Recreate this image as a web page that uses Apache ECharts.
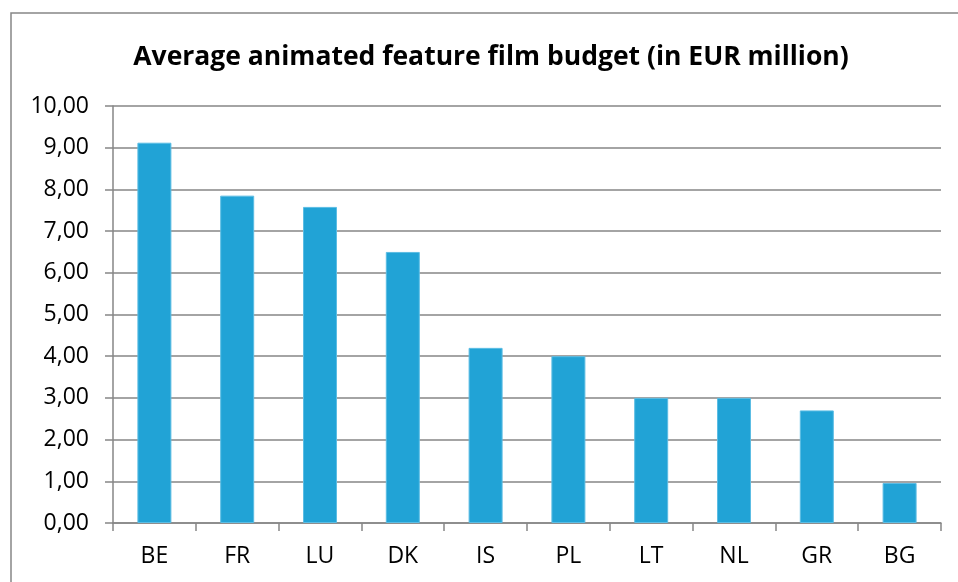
<!DOCTYPE html>
<html>
<head>
<meta charset="utf-8">
<script src="https://cdn.jsdelivr.net/npm/echarts@6/dist/echarts.min.js"></script>
<style>
  html, body { margin: 0; padding: 0; background: #fff; }
  #chart { width: 958px; height: 582px; }
</style>
</head>
<body>
<div id="chart"></div>
<script>
var countries = ['BE', 'FR', 'LU', 'DK', 'IS', 'PL', 'LT', 'NL', 'GR', 'BG'];
var budgets   = [9.12, 7.85, 7.58, 6.50, 4.20, 4.00, 3.00, 3.00, 2.70, 0.96];

var chart = echarts.init(document.getElementById('chart'));

function fmt(v) {
  return v.toFixed(2).replace('.', ',');
}

var option = {
  animation: false,
  textStyle: { fontFamily: 'Open Sans' },
  graphic: [{
    type: 'rect',
    shape: { x: 11, y: 13, width: 960, height: 600 },
    style: { fill: 'none', stroke: '#868686', lineWidth: 1.5 }
  }],
  title: {
    text: 'Average animated feature film budget (in EUR million)',
    left: 486,
    top: 39,
    textAlign: 'center',
    textStyle: { fontFamily: 'Open Sans', fontWeight: 'bold', fontSize: 26.5, color: '#000' }
  },
  grid: { left: 113, right: 17, top: 106, bottom: 59 },
  xAxis: {
    type: 'category',
    data: countries,
    axisLine: { lineStyle: { color: '#868686', width: 1.5 } },
    axisTick: { show: true, length: 8, lineStyle: { color: '#868686', width: 1.5 } },
    axisLabel: { color: '#000', fontSize: 23, margin: 22 }
  },
  yAxis: {
    type: 'value',
    min: 0,
    max: 10,
    interval: 1,
    axisLine: { show: true, lineStyle: { color: '#868686', width: 1.5 } },
    axisTick: { show: true, length: 8, lineStyle: { color: '#868686', width: 1.5 } },
    splitLine: { lineStyle: { color: '#868686', width: 1.5 } },
    axisLabel: { color: '#000', fontSize: 23, margin: 24, formatter: fmt }
  },
  series: [{
    type: 'bar',
    data: budgets,
    barWidth: 34,
    itemStyle: { color: '#21A3D6', borderColor: '#5cbde4', borderWidth: 1 }
  }]
};

chart.setOption(option);
</script>
</body>
</html>
